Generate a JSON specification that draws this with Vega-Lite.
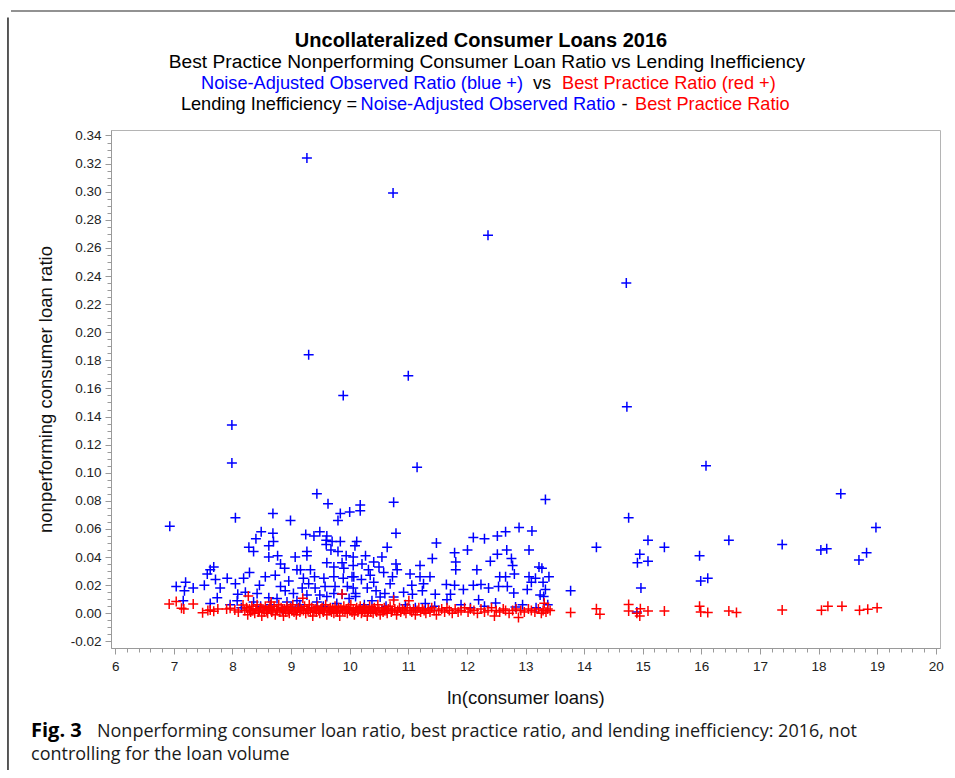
{
  "$schema": "https://vega.github.io/schema/vega-lite/v6.json",
  "width": 829,
  "height": 518,
  "autosize": {"type": "none"},
  "padding": {"left": 111, "top": 130, "right": 15, "bottom": 130},
  "background": "white",
  "config": {
    "view": {"stroke": "#b4b4b4", "strokeWidth": 1},
    "font": "Liberation Sans",
    "axis": {
      "domainColor": "#9a9a9a",
      "tickColor": "#9a9a9a",
      "labelColor": "#222222",
      "labelFont": "Liberation Sans",
      "labelFontSize": 13.5,
      "titleFont": "Liberation Sans",
      "titleFontSize": 18.5,
      "titleFontWeight": "normal",
      "titleColor": "#111111",
      "grid": false
    }
  },
  "datasets": {
    "points": [
      {"series": "Noise-Adjusted Observed Ratio", "lnloans": 6.93, "ratio": 0.062},
      {"series": "Noise-Adjusted Observed Ratio", "lnloans": 7.99, "ratio": 0.134},
      {"series": "Noise-Adjusted Observed Ratio", "lnloans": 7.99, "ratio": 0.107},
      {"series": "Noise-Adjusted Observed Ratio", "lnloans": 8.05, "ratio": 0.068},
      {"series": "Noise-Adjusted Observed Ratio", "lnloans": 9.27, "ratio": 0.324},
      {"series": "Noise-Adjusted Observed Ratio", "lnloans": 9.3, "ratio": 0.184},
      {"series": "Noise-Adjusted Observed Ratio", "lnloans": 9.44, "ratio": 0.085},
      {"series": "Noise-Adjusted Observed Ratio", "lnloans": 9.89, "ratio": 0.155},
      {"series": "Noise-Adjusted Observed Ratio", "lnloans": 10.74, "ratio": 0.299},
      {"series": "Noise-Adjusted Observed Ratio", "lnloans": 10.75, "ratio": 0.079},
      {"series": "Noise-Adjusted Observed Ratio", "lnloans": 11.0, "ratio": 0.169},
      {"series": "Noise-Adjusted Observed Ratio", "lnloans": 11.15, "ratio": 0.104},
      {"series": "Noise-Adjusted Observed Ratio", "lnloans": 12.36, "ratio": 0.269},
      {"series": "Noise-Adjusted Observed Ratio", "lnloans": 13.34, "ratio": 0.081},
      {"series": "Noise-Adjusted Observed Ratio", "lnloans": 14.72, "ratio": 0.235},
      {"series": "Noise-Adjusted Observed Ratio", "lnloans": 14.73, "ratio": 0.147},
      {"series": "Noise-Adjusted Observed Ratio", "lnloans": 14.76, "ratio": 0.068},
      {"series": "Noise-Adjusted Observed Ratio", "lnloans": 16.08, "ratio": 0.105},
      {"series": "Noise-Adjusted Observed Ratio", "lnloans": 18.38, "ratio": 0.085},
      {"series": "Noise-Adjusted Observed Ratio", "lnloans": 18.98, "ratio": 0.061},
      {"series": "Noise-Adjusted Observed Ratio", "lnloans": 14.21, "ratio": 0.047},
      {"series": "Noise-Adjusted Observed Ratio", "lnloans": 15.09, "ratio": 0.052},
      {"series": "Noise-Adjusted Observed Ratio", "lnloans": 15.37, "ratio": 0.047},
      {"series": "Noise-Adjusted Observed Ratio", "lnloans": 14.95, "ratio": 0.042},
      {"series": "Noise-Adjusted Observed Ratio", "lnloans": 14.91, "ratio": 0.036},
      {"series": "Noise-Adjusted Observed Ratio", "lnloans": 15.09, "ratio": 0.037},
      {"series": "Noise-Adjusted Observed Ratio", "lnloans": 14.97, "ratio": 0.018},
      {"series": "Noise-Adjusted Observed Ratio", "lnloans": 13.77, "ratio": 0.016},
      {"series": "Noise-Adjusted Observed Ratio", "lnloans": 15.97, "ratio": 0.041},
      {"series": "Noise-Adjusted Observed Ratio", "lnloans": 15.99, "ratio": 0.023},
      {"series": "Noise-Adjusted Observed Ratio", "lnloans": 16.11, "ratio": 0.025},
      {"series": "Noise-Adjusted Observed Ratio", "lnloans": 16.47, "ratio": 0.052},
      {"series": "Noise-Adjusted Observed Ratio", "lnloans": 17.38, "ratio": 0.049},
      {"series": "Noise-Adjusted Observed Ratio", "lnloans": 18.04, "ratio": 0.045},
      {"series": "Noise-Adjusted Observed Ratio", "lnloans": 18.14, "ratio": 0.046},
      {"series": "Noise-Adjusted Observed Ratio", "lnloans": 18.69, "ratio": 0.038},
      {"series": "Noise-Adjusted Observed Ratio", "lnloans": 18.82, "ratio": 0.043},
      {"series": "Noise-Adjusted Observed Ratio", "lnloans": 13.28, "ratio": 0.032},
      {"series": "Noise-Adjusted Observed Ratio", "lnloans": 13.4, "ratio": 0.026},
      {"series": "Noise-Adjusted Observed Ratio", "lnloans": 13.3, "ratio": 0.022},
      {"series": "Noise-Adjusted Observed Ratio", "lnloans": 13.34, "ratio": 0.017},
      {"series": "Noise-Adjusted Observed Ratio", "lnloans": 14.9, "ratio": 0.001},
      {"series": "Noise-Adjusted Observed Ratio", "lnloans": 9.63, "ratio": 0.078},
      {"series": "Noise-Adjusted Observed Ratio", "lnloans": 8.69, "ratio": 0.071},
      {"series": "Noise-Adjusted Observed Ratio", "lnloans": 8.99, "ratio": 0.066},
      {"series": "Noise-Adjusted Observed Ratio", "lnloans": 9.84, "ratio": 0.071},
      {"series": "Noise-Adjusted Observed Ratio", "lnloans": 10.0, "ratio": 0.072},
      {"series": "Noise-Adjusted Observed Ratio", "lnloans": 9.8, "ratio": 0.066},
      {"series": "Noise-Adjusted Observed Ratio", "lnloans": 8.49, "ratio": 0.058},
      {"series": "Noise-Adjusted Observed Ratio", "lnloans": 8.69, "ratio": 0.057},
      {"series": "Noise-Adjusted Observed Ratio", "lnloans": 8.4, "ratio": 0.053},
      {"series": "Noise-Adjusted Observed Ratio", "lnloans": 8.7, "ratio": 0.051},
      {"series": "Noise-Adjusted Observed Ratio", "lnloans": 8.62, "ratio": 0.048},
      {"series": "Noise-Adjusted Observed Ratio", "lnloans": 8.28, "ratio": 0.047},
      {"series": "Noise-Adjusted Observed Ratio", "lnloans": 8.36, "ratio": 0.044},
      {"series": "Noise-Adjusted Observed Ratio", "lnloans": 8.77, "ratio": 0.041},
      {"series": "Noise-Adjusted Observed Ratio", "lnloans": 8.62, "ratio": 0.04},
      {"series": "Noise-Adjusted Observed Ratio", "lnloans": 9.25, "ratio": 0.056},
      {"series": "Noise-Adjusted Observed Ratio", "lnloans": 9.39, "ratio": 0.055},
      {"series": "Noise-Adjusted Observed Ratio", "lnloans": 9.49, "ratio": 0.058},
      {"series": "Noise-Adjusted Observed Ratio", "lnloans": 9.61, "ratio": 0.055},
      {"series": "Noise-Adjusted Observed Ratio", "lnloans": 9.6, "ratio": 0.052},
      {"series": "Noise-Adjusted Observed Ratio", "lnloans": 9.7, "ratio": 0.051},
      {"series": "Noise-Adjusted Observed Ratio", "lnloans": 9.84, "ratio": 0.051},
      {"series": "Noise-Adjusted Observed Ratio", "lnloans": 9.27, "ratio": 0.044},
      {"series": "Noise-Adjusted Observed Ratio", "lnloans": 9.27, "ratio": 0.041},
      {"series": "Noise-Adjusted Observed Ratio", "lnloans": 9.07, "ratio": 0.04},
      {"series": "Noise-Adjusted Observed Ratio", "lnloans": 9.6, "ratio": 0.049},
      {"series": "Noise-Adjusted Observed Ratio", "lnloans": 9.68, "ratio": 0.045},
      {"series": "Noise-Adjusted Observed Ratio", "lnloans": 9.8, "ratio": 0.044},
      {"series": "Noise-Adjusted Observed Ratio", "lnloans": 9.94, "ratio": 0.041},
      {"series": "Noise-Adjusted Observed Ratio", "lnloans": 10.06, "ratio": 0.04},
      {"series": "Noise-Adjusted Observed Ratio", "lnloans": 10.12, "ratio": 0.051},
      {"series": "Noise-Adjusted Observed Ratio", "lnloans": 9.61, "ratio": 0.036},
      {"series": "Noise-Adjusted Observed Ratio", "lnloans": 9.73, "ratio": 0.033},
      {"series": "Noise-Adjusted Observed Ratio", "lnloans": 9.9, "ratio": 0.032},
      {"series": "Noise-Adjusted Observed Ratio", "lnloans": 10.06, "ratio": 0.034},
      {"series": "Noise-Adjusted Observed Ratio", "lnloans": 9.87, "ratio": 0.036},
      {"series": "Noise-Adjusted Observed Ratio", "lnloans": 8.82, "ratio": 0.035},
      {"series": "Noise-Adjusted Observed Ratio", "lnloans": 8.89, "ratio": 0.032},
      {"series": "Noise-Adjusted Observed Ratio", "lnloans": 8.96, "ratio": 0.023},
      {"series": "Noise-Adjusted Observed Ratio", "lnloans": 9.1, "ratio": 0.031},
      {"series": "Noise-Adjusted Observed Ratio", "lnloans": 9.16, "ratio": 0.031},
      {"series": "Noise-Adjusted Observed Ratio", "lnloans": 9.33, "ratio": 0.031},
      {"series": "Noise-Adjusted Observed Ratio", "lnloans": 9.4, "ratio": 0.026},
      {"series": "Noise-Adjusted Observed Ratio", "lnloans": 9.21, "ratio": 0.025},
      {"series": "Noise-Adjusted Observed Ratio", "lnloans": 9.3, "ratio": 0.021},
      {"series": "Noise-Adjusted Observed Ratio", "lnloans": 9.56, "ratio": 0.025},
      {"series": "Noise-Adjusted Observed Ratio", "lnloans": 9.73, "ratio": 0.026},
      {"series": "Noise-Adjusted Observed Ratio", "lnloans": 9.89, "ratio": 0.025},
      {"series": "Noise-Adjusted Observed Ratio", "lnloans": 10.04, "ratio": 0.026},
      {"series": "Noise-Adjusted Observed Ratio", "lnloans": 9.58, "ratio": 0.019},
      {"series": "Noise-Adjusted Observed Ratio", "lnloans": 9.75, "ratio": 0.019},
      {"series": "Noise-Adjusted Observed Ratio", "lnloans": 10.06, "ratio": 0.018},
      {"series": "Noise-Adjusted Observed Ratio", "lnloans": 7.62, "ratio": 0.031},
      {"series": "Noise-Adjusted Observed Ratio", "lnloans": 7.68, "ratio": 0.033},
      {"series": "Noise-Adjusted Observed Ratio", "lnloans": 7.57, "ratio": 0.028},
      {"series": "Noise-Adjusted Observed Ratio", "lnloans": 7.52, "ratio": 0.02},
      {"series": "Noise-Adjusted Observed Ratio", "lnloans": 7.91, "ratio": 0.025},
      {"series": "Noise-Adjusted Observed Ratio", "lnloans": 7.71, "ratio": 0.024},
      {"series": "Noise-Adjusted Observed Ratio", "lnloans": 7.79, "ratio": 0.018},
      {"series": "Noise-Adjusted Observed Ratio", "lnloans": 8.05, "ratio": 0.021},
      {"series": "Noise-Adjusted Observed Ratio", "lnloans": 7.04, "ratio": 0.019},
      {"series": "Noise-Adjusted Observed Ratio", "lnloans": 7.2, "ratio": 0.022},
      {"series": "Noise-Adjusted Observed Ratio", "lnloans": 7.18, "ratio": 0.016},
      {"series": "Noise-Adjusted Observed Ratio", "lnloans": 7.33, "ratio": 0.018},
      {"series": "Noise-Adjusted Observed Ratio", "lnloans": 7.16, "ratio": 0.009},
      {"series": "Noise-Adjusted Observed Ratio", "lnloans": 7.74, "ratio": 0.011},
      {"series": "Noise-Adjusted Observed Ratio", "lnloans": 7.62, "ratio": 0.007},
      {"series": "Noise-Adjusted Observed Ratio", "lnloans": 8.09, "ratio": 0.0135},
      {"series": "Noise-Adjusted Observed Ratio", "lnloans": 8.08, "ratio": 0.009},
      {"series": "Noise-Adjusted Observed Ratio", "lnloans": 8.19, "ratio": 0.025},
      {"series": "Noise-Adjusted Observed Ratio", "lnloans": 8.29, "ratio": 0.029},
      {"series": "Noise-Adjusted Observed Ratio", "lnloans": 8.22, "ratio": 0.015},
      {"series": "Noise-Adjusted Observed Ratio", "lnloans": 8.46, "ratio": 0.02},
      {"series": "Noise-Adjusted Observed Ratio", "lnloans": 8.42, "ratio": 0.014},
      {"series": "Noise-Adjusted Observed Ratio", "lnloans": 8.36, "ratio": 0.008},
      {"series": "Noise-Adjusted Observed Ratio", "lnloans": 8.56, "ratio": 0.026},
      {"series": "Noise-Adjusted Observed Ratio", "lnloans": 8.73, "ratio": 0.027},
      {"series": "Noise-Adjusted Observed Ratio", "lnloans": 8.62, "ratio": 0.011},
      {"series": "Noise-Adjusted Observed Ratio", "lnloans": 8.82, "ratio": 0.019},
      {"series": "Noise-Adjusted Observed Ratio", "lnloans": 8.76, "ratio": 0.0105},
      {"series": "Noise-Adjusted Observed Ratio", "lnloans": 8.9, "ratio": 0.016},
      {"series": "Noise-Adjusted Observed Ratio", "lnloans": 8.93, "ratio": 0.008},
      {"series": "Noise-Adjusted Observed Ratio", "lnloans": 9.04, "ratio": 0.014},
      {"series": "Noise-Adjusted Observed Ratio", "lnloans": 9.1, "ratio": 0.009},
      {"series": "Noise-Adjusted Observed Ratio", "lnloans": 9.19, "ratio": 0.018},
      {"series": "Noise-Adjusted Observed Ratio", "lnloans": 9.27, "ratio": 0.013},
      {"series": "Noise-Adjusted Observed Ratio", "lnloans": 9.41, "ratio": 0.018},
      {"series": "Noise-Adjusted Observed Ratio", "lnloans": 9.49, "ratio": 0.013},
      {"series": "Noise-Adjusted Observed Ratio", "lnloans": 9.61, "ratio": 0.012},
      {"series": "Noise-Adjusted Observed Ratio", "lnloans": 9.73, "ratio": 0.014},
      {"series": "Noise-Adjusted Observed Ratio", "lnloans": 9.87, "ratio": 0.0135},
      {"series": "Noise-Adjusted Observed Ratio", "lnloans": 9.99, "ratio": 0.0105},
      {"series": "Noise-Adjusted Observed Ratio", "lnloans": 10.1, "ratio": 0.012},
      {"series": "Noise-Adjusted Observed Ratio", "lnloans": 9.44, "ratio": 0.008},
      {"series": "Noise-Adjusted Observed Ratio", "lnloans": 9.02, "ratio": 0.0045},
      {"series": "Noise-Adjusted Observed Ratio", "lnloans": 8.65, "ratio": 0.006},
      {"series": "Noise-Adjusted Observed Ratio", "lnloans": 7.96, "ratio": 0.006},
      {"series": "Noise-Adjusted Observed Ratio", "lnloans": 10.18, "ratio": 0.077},
      {"series": "Noise-Adjusted Observed Ratio", "lnloans": 10.18, "ratio": 0.073},
      {"series": "Noise-Adjusted Observed Ratio", "lnloans": 10.79, "ratio": 0.057},
      {"series": "Noise-Adjusted Observed Ratio", "lnloans": 12.89, "ratio": 0.061},
      {"series": "Noise-Adjusted Observed Ratio", "lnloans": 13.11, "ratio": 0.0585},
      {"series": "Noise-Adjusted Observed Ratio", "lnloans": 12.66, "ratio": 0.058},
      {"series": "Noise-Adjusted Observed Ratio", "lnloans": 12.52, "ratio": 0.055},
      {"series": "Noise-Adjusted Observed Ratio", "lnloans": 12.3, "ratio": 0.053},
      {"series": "Noise-Adjusted Observed Ratio", "lnloans": 12.11, "ratio": 0.054},
      {"series": "Noise-Adjusted Observed Ratio", "lnloans": 11.48, "ratio": 0.05},
      {"series": "Noise-Adjusted Observed Ratio", "lnloans": 10.09, "ratio": 0.048},
      {"series": "Noise-Adjusted Observed Ratio", "lnloans": 10.64, "ratio": 0.047},
      {"series": "Noise-Adjusted Observed Ratio", "lnloans": 12.01, "ratio": 0.045},
      {"series": "Noise-Adjusted Observed Ratio", "lnloans": 12.68, "ratio": 0.045},
      {"series": "Noise-Adjusted Observed Ratio", "lnloans": 13.06, "ratio": 0.045},
      {"series": "Noise-Adjusted Observed Ratio", "lnloans": 11.79, "ratio": 0.043},
      {"series": "Noise-Adjusted Observed Ratio", "lnloans": 12.52, "ratio": 0.042},
      {"series": "Noise-Adjusted Observed Ratio", "lnloans": 11.81, "ratio": 0.0365},
      {"series": "Noise-Adjusted Observed Ratio", "lnloans": 11.81, "ratio": 0.031},
      {"series": "Noise-Adjusted Observed Ratio", "lnloans": 11.41, "ratio": 0.039},
      {"series": "Noise-Adjusted Observed Ratio", "lnloans": 11.2, "ratio": 0.034},
      {"series": "Noise-Adjusted Observed Ratio", "lnloans": 10.79, "ratio": 0.035},
      {"series": "Noise-Adjusted Observed Ratio", "lnloans": 10.81, "ratio": 0.031},
      {"series": "Noise-Adjusted Observed Ratio", "lnloans": 10.55, "ratio": 0.04},
      {"series": "Noise-Adjusted Observed Ratio", "lnloans": 10.41, "ratio": 0.0365},
      {"series": "Noise-Adjusted Observed Ratio", "lnloans": 10.27, "ratio": 0.041},
      {"series": "Noise-Adjusted Observed Ratio", "lnloans": 10.21, "ratio": 0.035},
      {"series": "Noise-Adjusted Observed Ratio", "lnloans": 10.32, "ratio": 0.031},
      {"series": "Noise-Adjusted Observed Ratio", "lnloans": 12.4, "ratio": 0.037},
      {"series": "Noise-Adjusted Observed Ratio", "lnloans": 12.76, "ratio": 0.039},
      {"series": "Noise-Adjusted Observed Ratio", "lnloans": 12.78, "ratio": 0.034},
      {"series": "Noise-Adjusted Observed Ratio", "lnloans": 12.17, "ratio": 0.031},
      {"series": "Noise-Adjusted Observed Ratio", "lnloans": 13.23, "ratio": 0.033},
      {"series": "Noise-Adjusted Observed Ratio", "lnloans": 12.81, "ratio": 0.028},
      {"series": "Noise-Adjusted Observed Ratio", "lnloans": 12.56, "ratio": 0.026},
      {"series": "Noise-Adjusted Observed Ratio", "lnloans": 12.66, "ratio": 0.026},
      {"series": "Noise-Adjusted Observed Ratio", "lnloans": 13.06, "ratio": 0.026},
      {"series": "Noise-Adjusted Observed Ratio", "lnloans": 13.17, "ratio": 0.025},
      {"series": "Noise-Adjusted Observed Ratio", "lnloans": 13.1, "ratio": 0.022},
      {"series": "Noise-Adjusted Observed Ratio", "lnloans": 11.03, "ratio": 0.028},
      {"series": "Noise-Adjusted Observed Ratio", "lnloans": 11.2, "ratio": 0.026},
      {"series": "Noise-Adjusted Observed Ratio", "lnloans": 11.37, "ratio": 0.026},
      {"series": "Noise-Adjusted Observed Ratio", "lnloans": 10.58, "ratio": 0.029},
      {"series": "Noise-Adjusted Observed Ratio", "lnloans": 10.73, "ratio": 0.026},
      {"series": "Noise-Adjusted Observed Ratio", "lnloans": 10.41, "ratio": 0.022},
      {"series": "Noise-Adjusted Observed Ratio", "lnloans": 10.69, "ratio": 0.021},
      {"series": "Noise-Adjusted Observed Ratio", "lnloans": 11.06, "ratio": 0.02},
      {"series": "Noise-Adjusted Observed Ratio", "lnloans": 11.26, "ratio": 0.021},
      {"series": "Noise-Adjusted Observed Ratio", "lnloans": 11.65, "ratio": 0.0205},
      {"series": "Noise-Adjusted Observed Ratio", "lnloans": 11.79, "ratio": 0.02},
      {"series": "Noise-Adjusted Observed Ratio", "lnloans": 11.94, "ratio": 0.017},
      {"series": "Noise-Adjusted Observed Ratio", "lnloans": 12.11, "ratio": 0.02},
      {"series": "Noise-Adjusted Observed Ratio", "lnloans": 12.24, "ratio": 0.0205},
      {"series": "Noise-Adjusted Observed Ratio", "lnloans": 12.37, "ratio": 0.018},
      {"series": "Noise-Adjusted Observed Ratio", "lnloans": 12.54, "ratio": 0.019},
      {"series": "Noise-Adjusted Observed Ratio", "lnloans": 12.69, "ratio": 0.019},
      {"series": "Noise-Adjusted Observed Ratio", "lnloans": 12.8, "ratio": 0.0145},
      {"series": "Noise-Adjusted Observed Ratio", "lnloans": 13.03, "ratio": 0.017},
      {"series": "Noise-Adjusted Observed Ratio", "lnloans": 13.25, "ratio": 0.013},
      {"series": "Noise-Adjusted Observed Ratio", "lnloans": 10.92, "ratio": 0.015},
      {"series": "Noise-Adjusted Observed Ratio", "lnloans": 11.07, "ratio": 0.0135},
      {"series": "Noise-Adjusted Observed Ratio", "lnloans": 11.24, "ratio": 0.016},
      {"series": "Noise-Adjusted Observed Ratio", "lnloans": 11.46, "ratio": 0.0135},
      {"series": "Noise-Adjusted Observed Ratio", "lnloans": 11.72, "ratio": 0.0135},
      {"series": "Noise-Adjusted Observed Ratio", "lnloans": 12.2, "ratio": 0.0097},
      {"series": "Noise-Adjusted Observed Ratio", "lnloans": 12.49, "ratio": 0.0073},
      {"series": "Noise-Adjusted Observed Ratio", "lnloans": 10.52, "ratio": 0.0116},
      {"series": "Noise-Adjusted Observed Ratio", "lnloans": 10.75, "ratio": 0.0116},
      {"series": "Noise-Adjusted Observed Ratio", "lnloans": 10.1, "ratio": 0.014},
      {"series": "Noise-Adjusted Observed Ratio", "lnloans": 9.96, "ratio": 0.019},
      {"series": "Noise-Adjusted Observed Ratio", "lnloans": 10.07, "ratio": 0.026},
      {"series": "Noise-Adjusted Observed Ratio", "lnloans": 11.29, "ratio": 0.007},
      {"series": "Noise-Adjusted Observed Ratio", "lnloans": 11.66, "ratio": 0.0097},
      {"series": "Noise-Adjusted Observed Ratio", "lnloans": 12.06, "ratio": 0.004},
      {"series": "Noise-Adjusted Observed Ratio", "lnloans": 12.83, "ratio": 0.0045},
      {"series": "Noise-Adjusted Observed Ratio", "lnloans": 13.31, "ratio": 0.012},
      {"series": "Noise-Adjusted Observed Ratio", "lnloans": 8.15, "ratio": 0.004},
      {"series": "Noise-Adjusted Observed Ratio", "lnloans": 8.48, "ratio": 0.005},
      {"series": "Noise-Adjusted Observed Ratio", "lnloans": 8.85, "ratio": 0.003},
      {"series": "Noise-Adjusted Observed Ratio", "lnloans": 9.15, "ratio": 0.006},
      {"series": "Noise-Adjusted Observed Ratio", "lnloans": 9.35, "ratio": 0.004},
      {"series": "Noise-Adjusted Observed Ratio", "lnloans": 9.55, "ratio": 0.005},
      {"series": "Noise-Adjusted Observed Ratio", "lnloans": 9.78, "ratio": 0.007},
      {"series": "Noise-Adjusted Observed Ratio", "lnloans": 10.25, "ratio": 0.006},
      {"series": "Noise-Adjusted Observed Ratio", "lnloans": 10.38, "ratio": 0.009},
      {"series": "Noise-Adjusted Observed Ratio", "lnloans": 10.62, "ratio": 0.005},
      {"series": "Noise-Adjusted Observed Ratio", "lnloans": 10.95, "ratio": 0.006},
      {"series": "Noise-Adjusted Observed Ratio", "lnloans": 11.12, "ratio": 0.004},
      {"series": "Noise-Adjusted Observed Ratio", "lnloans": 11.45, "ratio": 0.005},
      {"series": "Noise-Adjusted Observed Ratio", "lnloans": 11.9, "ratio": 0.006},
      {"series": "Noise-Adjusted Observed Ratio", "lnloans": 12.3, "ratio": 0.005},
      {"series": "Noise-Adjusted Observed Ratio", "lnloans": 12.95, "ratio": 0.006},
      {"series": "Noise-Adjusted Observed Ratio", "lnloans": 13.18, "ratio": 0.004},
      {"series": "Noise-Adjusted Observed Ratio", "lnloans": 13.38, "ratio": 0.006},
      {"series": "Noise-Adjusted Observed Ratio", "lnloans": 10.3, "ratio": 0.018},
      {"series": "Noise-Adjusted Observed Ratio", "lnloans": 10.45, "ratio": 0.016},
      {"series": "Noise-Adjusted Observed Ratio", "lnloans": 10.6, "ratio": 0.014},
      {"series": "Noise-Adjusted Observed Ratio", "lnloans": 10.2, "ratio": 0.024},
      {"series": "Noise-Adjusted Observed Ratio", "lnloans": 10.35, "ratio": 0.027},
      {"series": "Noise-Adjusted Observed Ratio", "lnloans": 10.5, "ratio": 0.033},
      {"series": "Best Practice Ratio", "lnloans": 6.92, "ratio": 0.0066},
      {"series": "Best Practice Ratio", "lnloans": 7.04, "ratio": 0.0083},
      {"series": "Best Practice Ratio", "lnloans": 7.13, "ratio": 0.0035},
      {"series": "Best Practice Ratio", "lnloans": 7.17, "ratio": 0.003},
      {"series": "Best Practice Ratio", "lnloans": 7.33, "ratio": 0.0066},
      {"series": "Best Practice Ratio", "lnloans": 7.49, "ratio": 0.0004},
      {"series": "Best Practice Ratio", "lnloans": 7.58, "ratio": 0.002},
      {"series": "Best Practice Ratio", "lnloans": 7.62, "ratio": 0.0023},
      {"series": "Best Practice Ratio", "lnloans": 7.68, "ratio": 0.0015},
      {"series": "Best Practice Ratio", "lnloans": 7.75, "ratio": 0.003},
      {"series": "Best Practice Ratio", "lnloans": 7.9, "ratio": 0.003},
      {"series": "Best Practice Ratio", "lnloans": 7.96, "ratio": 0.0035},
      {"series": "Best Practice Ratio", "lnloans": 8.04, "ratio": 0.0023},
      {"series": "Best Practice Ratio", "lnloans": 8.1, "ratio": 0.001},
      {"series": "Best Practice Ratio", "lnloans": 8.18, "ratio": 0.0059},
      {"series": "Best Practice Ratio", "lnloans": 8.27, "ratio": 0.0123},
      {"series": "Best Practice Ratio", "lnloans": 8.21, "ratio": 0.002},
      {"series": "Best Practice Ratio", "lnloans": 8.24, "ratio": 0.004},
      {"series": "Best Practice Ratio", "lnloans": 8.26, "ratio": -0.001},
      {"series": "Best Practice Ratio", "lnloans": 8.29, "ratio": 0.003},
      {"series": "Best Practice Ratio", "lnloans": 8.31, "ratio": 0.001},
      {"series": "Best Practice Ratio", "lnloans": 8.33, "ratio": 0.005},
      {"series": "Best Practice Ratio", "lnloans": 8.35, "ratio": 0.002},
      {"series": "Best Practice Ratio", "lnloans": 8.38, "ratio": 0.0},
      {"series": "Best Practice Ratio", "lnloans": 8.4, "ratio": 0.003},
      {"series": "Best Practice Ratio", "lnloans": 8.42, "ratio": 0.006},
      {"series": "Best Practice Ratio", "lnloans": 8.44, "ratio": 0.001},
      {"series": "Best Practice Ratio", "lnloans": 8.46, "ratio": 0.002},
      {"series": "Best Practice Ratio", "lnloans": 8.48, "ratio": 0.004},
      {"series": "Best Practice Ratio", "lnloans": 8.5, "ratio": -0.002},
      {"series": "Best Practice Ratio", "lnloans": 8.52, "ratio": 0.003},
      {"series": "Best Practice Ratio", "lnloans": 8.54, "ratio": 0.001},
      {"series": "Best Practice Ratio", "lnloans": 8.56, "ratio": 0.005},
      {"series": "Best Practice Ratio", "lnloans": 8.58, "ratio": 0.002},
      {"series": "Best Practice Ratio", "lnloans": 8.6, "ratio": 0.0},
      {"series": "Best Practice Ratio", "lnloans": 8.62, "ratio": 0.003},
      {"series": "Best Practice Ratio", "lnloans": 8.64, "ratio": 0.004},
      {"series": "Best Practice Ratio", "lnloans": 8.66, "ratio": 0.008},
      {"series": "Best Practice Ratio", "lnloans": 8.67, "ratio": 0.001},
      {"series": "Best Practice Ratio", "lnloans": 8.69, "ratio": 0.002},
      {"series": "Best Practice Ratio", "lnloans": 8.71, "ratio": 0.005},
      {"series": "Best Practice Ratio", "lnloans": 8.73, "ratio": -0.001},
      {"series": "Best Practice Ratio", "lnloans": 8.75, "ratio": 0.003},
      {"series": "Best Practice Ratio", "lnloans": 8.77, "ratio": 0.002},
      {"series": "Best Practice Ratio", "lnloans": 8.79, "ratio": 0.006},
      {"series": "Best Practice Ratio", "lnloans": 8.81, "ratio": 0.001},
      {"series": "Best Practice Ratio", "lnloans": 8.83, "ratio": 0.004},
      {"series": "Best Practice Ratio", "lnloans": 8.85, "ratio": 0.002},
      {"series": "Best Practice Ratio", "lnloans": 8.87, "ratio": -0.002},
      {"series": "Best Practice Ratio", "lnloans": 8.89, "ratio": 0.003},
      {"series": "Best Practice Ratio", "lnloans": 8.91, "ratio": 0.001},
      {"series": "Best Practice Ratio", "lnloans": 8.93, "ratio": 0.005},
      {"series": "Best Practice Ratio", "lnloans": 8.95, "ratio": 0.002},
      {"series": "Best Practice Ratio", "lnloans": 8.97, "ratio": 0.0},
      {"series": "Best Practice Ratio", "lnloans": 8.99, "ratio": 0.004},
      {"series": "Best Practice Ratio", "lnloans": 9.01, "ratio": 0.002},
      {"series": "Best Practice Ratio", "lnloans": 9.03, "ratio": 0.006},
      {"series": "Best Practice Ratio", "lnloans": 9.05, "ratio": 0.001},
      {"series": "Best Practice Ratio", "lnloans": 9.07, "ratio": 0.003},
      {"series": "Best Practice Ratio", "lnloans": 9.09, "ratio": -0.001},
      {"series": "Best Practice Ratio", "lnloans": 9.11, "ratio": 0.002},
      {"series": "Best Practice Ratio", "lnloans": 9.13, "ratio": 0.004},
      {"series": "Best Practice Ratio", "lnloans": 9.15, "ratio": 0.001},
      {"series": "Best Practice Ratio", "lnloans": 9.17, "ratio": 0.003},
      {"series": "Best Practice Ratio", "lnloans": 9.2, "ratio": 0.0107},
      {"series": "Best Practice Ratio", "lnloans": 9.21, "ratio": 0.002},
      {"series": "Best Practice Ratio", "lnloans": 9.23, "ratio": 0.005},
      {"series": "Best Practice Ratio", "lnloans": 9.25, "ratio": 0.0},
      {"series": "Best Practice Ratio", "lnloans": 9.27, "ratio": 0.003},
      {"series": "Best Practice Ratio", "lnloans": 9.29, "ratio": 0.002},
      {"series": "Best Practice Ratio", "lnloans": 9.31, "ratio": 0.006},
      {"series": "Best Practice Ratio", "lnloans": 9.33, "ratio": 0.001},
      {"series": "Best Practice Ratio", "lnloans": 9.35, "ratio": 0.004},
      {"series": "Best Practice Ratio", "lnloans": 9.37, "ratio": -0.002},
      {"series": "Best Practice Ratio", "lnloans": 9.39, "ratio": 0.002},
      {"series": "Best Practice Ratio", "lnloans": 9.41, "ratio": 0.003},
      {"series": "Best Practice Ratio", "lnloans": 9.43, "ratio": 0.001},
      {"series": "Best Practice Ratio", "lnloans": 9.45, "ratio": 0.005},
      {"series": "Best Practice Ratio", "lnloans": 9.47, "ratio": 0.002},
      {"series": "Best Practice Ratio", "lnloans": 9.49, "ratio": 0.0},
      {"series": "Best Practice Ratio", "lnloans": 9.51, "ratio": 0.003},
      {"series": "Best Practice Ratio", "lnloans": 9.53, "ratio": 0.004},
      {"series": "Best Practice Ratio", "lnloans": 9.55, "ratio": 0.001},
      {"series": "Best Practice Ratio", "lnloans": 9.57, "ratio": 0.002},
      {"series": "Best Practice Ratio", "lnloans": 9.59, "ratio": 0.006},
      {"series": "Best Practice Ratio", "lnloans": 9.61, "ratio": -0.001},
      {"series": "Best Practice Ratio", "lnloans": 9.63, "ratio": 0.003},
      {"series": "Best Practice Ratio", "lnloans": 9.65, "ratio": 0.002},
      {"series": "Best Practice Ratio", "lnloans": 9.67, "ratio": 0.004},
      {"series": "Best Practice Ratio", "lnloans": 9.69, "ratio": 0.001},
      {"series": "Best Practice Ratio", "lnloans": 9.71, "ratio": 0.003},
      {"series": "Best Practice Ratio", "lnloans": 9.73, "ratio": 0.0},
      {"series": "Best Practice Ratio", "lnloans": 9.75, "ratio": 0.005},
      {"series": "Best Practice Ratio", "lnloans": 9.77, "ratio": 0.002},
      {"series": "Best Practice Ratio", "lnloans": 9.79, "ratio": 0.001},
      {"series": "Best Practice Ratio", "lnloans": 9.81, "ratio": 0.004},
      {"series": "Best Practice Ratio", "lnloans": 9.83, "ratio": -0.002},
      {"series": "Best Practice Ratio", "lnloans": 9.85, "ratio": 0.003},
      {"series": "Best Practice Ratio", "lnloans": 9.87, "ratio": 0.0137},
      {"series": "Best Practice Ratio", "lnloans": 9.88, "ratio": 0.002},
      {"series": "Best Practice Ratio", "lnloans": 9.9, "ratio": 0.005},
      {"series": "Best Practice Ratio", "lnloans": 9.92, "ratio": 0.001},
      {"series": "Best Practice Ratio", "lnloans": 9.94, "ratio": 0.003},
      {"series": "Best Practice Ratio", "lnloans": 9.96, "ratio": 0.0},
      {"series": "Best Practice Ratio", "lnloans": 9.98, "ratio": 0.004},
      {"series": "Best Practice Ratio", "lnloans": 10.0, "ratio": 0.002},
      {"series": "Best Practice Ratio", "lnloans": 10.02, "ratio": 0.006},
      {"series": "Best Practice Ratio", "lnloans": 10.04, "ratio": 0.001},
      {"series": "Best Practice Ratio", "lnloans": 10.06, "ratio": 0.003},
      {"series": "Best Practice Ratio", "lnloans": 10.08, "ratio": -0.001},
      {"series": "Best Practice Ratio", "lnloans": 10.1, "ratio": 0.002},
      {"series": "Best Practice Ratio", "lnloans": 10.12, "ratio": 0.004},
      {"series": "Best Practice Ratio", "lnloans": 10.14, "ratio": 0.001},
      {"series": "Best Practice Ratio", "lnloans": 10.16, "ratio": 0.003},
      {"series": "Best Practice Ratio", "lnloans": 10.18, "ratio": 0.005},
      {"series": "Best Practice Ratio", "lnloans": 10.2, "ratio": 0.0},
      {"series": "Best Practice Ratio", "lnloans": 10.22, "ratio": 0.002},
      {"series": "Best Practice Ratio", "lnloans": 10.24, "ratio": 0.004},
      {"series": "Best Practice Ratio", "lnloans": 10.26, "ratio": 0.001},
      {"series": "Best Practice Ratio", "lnloans": 10.28, "ratio": 0.003},
      {"series": "Best Practice Ratio", "lnloans": 10.3, "ratio": -0.002},
      {"series": "Best Practice Ratio", "lnloans": 10.32, "ratio": 0.002},
      {"series": "Best Practice Ratio", "lnloans": 10.34, "ratio": 0.005},
      {"series": "Best Practice Ratio", "lnloans": 10.36, "ratio": 0.001},
      {"series": "Best Practice Ratio", "lnloans": 10.38, "ratio": 0.003},
      {"series": "Best Practice Ratio", "lnloans": 10.4, "ratio": 0.0},
      {"series": "Best Practice Ratio", "lnloans": 10.42, "ratio": 0.004},
      {"series": "Best Practice Ratio", "lnloans": 10.44, "ratio": 0.002},
      {"series": "Best Practice Ratio", "lnloans": 10.46, "ratio": 0.001},
      {"series": "Best Practice Ratio", "lnloans": 10.48, "ratio": 0.006},
      {"series": "Best Practice Ratio", "lnloans": 10.5, "ratio": 0.002},
      {"series": "Best Practice Ratio", "lnloans": 10.52, "ratio": -0.001},
      {"series": "Best Practice Ratio", "lnloans": 10.55, "ratio": 0.003},
      {"series": "Best Practice Ratio", "lnloans": 10.57, "ratio": 0.001},
      {"series": "Best Practice Ratio", "lnloans": 10.59, "ratio": 0.004},
      {"series": "Best Practice Ratio", "lnloans": 10.62, "ratio": 0.002},
      {"series": "Best Practice Ratio", "lnloans": 10.64, "ratio": 0.0},
      {"series": "Best Practice Ratio", "lnloans": 10.66, "ratio": 0.003},
      {"series": "Best Practice Ratio", "lnloans": 10.69, "ratio": 0.005},
      {"series": "Best Practice Ratio", "lnloans": 10.71, "ratio": 0.001},
      {"series": "Best Practice Ratio", "lnloans": 10.73, "ratio": 0.002},
      {"series": "Best Practice Ratio", "lnloans": 10.75, "ratio": 0.0094},
      {"series": "Best Practice Ratio", "lnloans": 10.77, "ratio": 0.003},
      {"series": "Best Practice Ratio", "lnloans": 10.8, "ratio": -0.001},
      {"series": "Best Practice Ratio", "lnloans": 10.82, "ratio": 0.002},
      {"series": "Best Practice Ratio", "lnloans": 10.85, "ratio": 0.004},
      {"series": "Best Practice Ratio", "lnloans": 10.87, "ratio": 0.001},
      {"series": "Best Practice Ratio", "lnloans": 10.9, "ratio": 0.003},
      {"series": "Best Practice Ratio", "lnloans": 10.93, "ratio": 0.002},
      {"series": "Best Practice Ratio", "lnloans": 10.96, "ratio": 0.0},
      {"series": "Best Practice Ratio", "lnloans": 10.98, "ratio": 0.004},
      {"series": "Best Practice Ratio", "lnloans": 11.01, "ratio": 0.0089},
      {"series": "Best Practice Ratio", "lnloans": 11.03, "ratio": 0.002},
      {"series": "Best Practice Ratio", "lnloans": 11.06, "ratio": 0.001},
      {"series": "Best Practice Ratio", "lnloans": 11.09, "ratio": 0.003},
      {"series": "Best Practice Ratio", "lnloans": 11.12, "ratio": -0.001},
      {"series": "Best Practice Ratio", "lnloans": 11.15, "ratio": 0.002},
      {"series": "Best Practice Ratio", "lnloans": 11.18, "ratio": 0.004},
      {"series": "Best Practice Ratio", "lnloans": 11.21, "ratio": 0.001},
      {"series": "Best Practice Ratio", "lnloans": 11.24, "ratio": 0.003},
      {"series": "Best Practice Ratio", "lnloans": 11.27, "ratio": 0.002},
      {"series": "Best Practice Ratio", "lnloans": 11.3, "ratio": 0.0},
      {"series": "Best Practice Ratio", "lnloans": 11.34, "ratio": 0.003},
      {"series": "Best Practice Ratio", "lnloans": 11.37, "ratio": 0.001},
      {"series": "Best Practice Ratio", "lnloans": 11.4, "ratio": 0.004},
      {"series": "Best Practice Ratio", "lnloans": 11.44, "ratio": 0.002},
      {"series": "Best Practice Ratio", "lnloans": 11.48, "ratio": -0.001},
      {"series": "Best Practice Ratio", "lnloans": 11.52, "ratio": 0.002},
      {"series": "Best Practice Ratio", "lnloans": 11.57, "ratio": 0.003},
      {"series": "Best Practice Ratio", "lnloans": 11.62, "ratio": 0.001},
      {"series": "Best Practice Ratio", "lnloans": 11.66, "ratio": 0.004},
      {"series": "Best Practice Ratio", "lnloans": 11.7, "ratio": 0.002},
      {"series": "Best Practice Ratio", "lnloans": 11.75, "ratio": 0.0},
      {"series": "Best Practice Ratio", "lnloans": 11.8, "ratio": 0.003},
      {"series": "Best Practice Ratio", "lnloans": 11.85, "ratio": 0.001},
      {"series": "Best Practice Ratio", "lnloans": 11.9, "ratio": 0.002},
      {"series": "Best Practice Ratio", "lnloans": 11.96, "ratio": 0.004},
      {"series": "Best Practice Ratio", "lnloans": 12.02, "ratio": 0.001},
      {"series": "Best Practice Ratio", "lnloans": 12.06, "ratio": 0.003},
      {"series": "Best Practice Ratio", "lnloans": 12.12, "ratio": 0.002},
      {"series": "Best Practice Ratio", "lnloans": 12.18, "ratio": 0.0},
      {"series": "Best Practice Ratio", "lnloans": 12.24, "ratio": 0.003},
      {"series": "Best Practice Ratio", "lnloans": 12.3, "ratio": 0.001},
      {"series": "Best Practice Ratio", "lnloans": 12.36, "ratio": 0.002},
      {"series": "Best Practice Ratio", "lnloans": 12.42, "ratio": 0.004},
      {"series": "Best Practice Ratio", "lnloans": 12.47, "ratio": -0.002},
      {"series": "Best Practice Ratio", "lnloans": 12.5, "ratio": 0.002},
      {"series": "Best Practice Ratio", "lnloans": 12.56, "ratio": 0.001},
      {"series": "Best Practice Ratio", "lnloans": 12.62, "ratio": 0.003},
      {"series": "Best Practice Ratio", "lnloans": 12.66, "ratio": 0.002},
      {"series": "Best Practice Ratio", "lnloans": 12.72, "ratio": 0.0},
      {"series": "Best Practice Ratio", "lnloans": 12.78, "ratio": 0.002},
      {"series": "Best Practice Ratio", "lnloans": 12.84, "ratio": 0.003},
      {"series": "Best Practice Ratio", "lnloans": 12.88, "ratio": -0.003},
      {"series": "Best Practice Ratio", "lnloans": 12.92, "ratio": 0.002},
      {"series": "Best Practice Ratio", "lnloans": 12.98, "ratio": 0.001},
      {"series": "Best Practice Ratio", "lnloans": 13.05, "ratio": 0.003},
      {"series": "Best Practice Ratio", "lnloans": 13.1, "ratio": 0.002},
      {"series": "Best Practice Ratio", "lnloans": 13.16, "ratio": 0.001},
      {"series": "Best Practice Ratio", "lnloans": 13.22, "ratio": 0.003},
      {"series": "Best Practice Ratio", "lnloans": 13.27, "ratio": 0.0},
      {"series": "Best Practice Ratio", "lnloans": 13.3, "ratio": 0.002},
      {"series": "Best Practice Ratio", "lnloans": 13.32, "ratio": 0.0071},
      {"series": "Best Practice Ratio", "lnloans": 13.35, "ratio": 0.001},
      {"series": "Best Practice Ratio", "lnloans": 13.38, "ratio": 0.003},
      {"series": "Best Practice Ratio", "lnloans": 13.42, "ratio": 0.002},
      {"series": "Best Practice Ratio", "lnloans": 13.77, "ratio": 0.0005},
      {"series": "Best Practice Ratio", "lnloans": 14.21, "ratio": 0.0033},
      {"series": "Best Practice Ratio", "lnloans": 14.27, "ratio": -0.0007},
      {"series": "Best Practice Ratio", "lnloans": 14.76, "ratio": 0.0062},
      {"series": "Best Practice Ratio", "lnloans": 14.76, "ratio": 0.0017},
      {"series": "Best Practice Ratio", "lnloans": 14.9, "ratio": 0.0},
      {"series": "Best Practice Ratio", "lnloans": 14.95, "ratio": -0.002},
      {"series": "Best Practice Ratio", "lnloans": 14.96, "ratio": 0.0033},
      {"series": "Best Practice Ratio", "lnloans": 15.09, "ratio": 0.0017},
      {"series": "Best Practice Ratio", "lnloans": 15.37, "ratio": 0.0017},
      {"series": "Best Practice Ratio", "lnloans": 15.97, "ratio": 0.005},
      {"series": "Best Practice Ratio", "lnloans": 15.99, "ratio": 0.001},
      {"series": "Best Practice Ratio", "lnloans": 16.11, "ratio": 0.0005},
      {"series": "Best Practice Ratio", "lnloans": 16.47, "ratio": 0.0017},
      {"series": "Best Practice Ratio", "lnloans": 16.6, "ratio": 0.0005},
      {"series": "Best Practice Ratio", "lnloans": 17.38, "ratio": 0.0024},
      {"series": "Best Practice Ratio", "lnloans": 18.05, "ratio": 0.0021},
      {"series": "Best Practice Ratio", "lnloans": 18.16, "ratio": 0.005},
      {"series": "Best Practice Ratio", "lnloans": 18.4, "ratio": 0.005},
      {"series": "Best Practice Ratio", "lnloans": 18.7, "ratio": 0.0021},
      {"series": "Best Practice Ratio", "lnloans": 18.84, "ratio": 0.0028},
      {"series": "Best Practice Ratio", "lnloans": 19.0, "ratio": 0.004}
    ]
  },
  "resolve": {"axis": {"x": "independent", "y": "independent"}},
  "layer": [
    {
      "data": {"name": "points"},
      "transform": [{"filter": "datum.series === 'Noise-Adjusted Observed Ratio'"}],
      "mark": {"type": "point", "shape": "M-1,0L1,0M0,-1L0,1", "filled": false, "size": 100, "strokeWidth": 1.5, "opacity": 1},
      "encoding": {
        "x": {
          "field": "lnloans", "type": "quantitative",
          "scale": {"domain": [5.927, 20.073], "nice": false, "zero": false},
          "axis": {"orient": "bottom", "values": [6, 7, 8, 9, 10, 11, 12, 13, 14, 15, 16, 17, 18, 19, 20], "format": "d", "tickSize": 6, "labelPadding": 5, "title": "ln(consumer loans)", "titlePadding": 16}
        },
        "y": {
          "field": "ratio", "type": "quantitative",
          "scale": {"domain": [-0.0247, 0.3439], "nice": false, "zero": false},
          "axis": {"orient": "left", "values": [-0.02, 0, 0.02, 0.04, 0.06, 0.08, 0.1, 0.12, 0.14, 0.16, 0.18, 0.2, 0.22, 0.24, 0.26, 0.28, 0.3, 0.32, 0.34], "labelExpr": "datum.value < 0 ? '-' + format(-datum.value, '.2f') : format(datum.value, '.2f')", "tickSize": 6, "labelPadding": 4, "title": "nonperforming consumer loan ratio", "titlePadding": 15}
        },
        "color": {"field": "series", "type": "nominal", "scale": {"domain": ["Noise-Adjusted Observed Ratio", "Best Practice Ratio"], "range": ["#0000ff", "#ff0000"]}, "legend": null}
      }
    },
    {
      "data": {"name": "points"},
      "transform": [{"filter": "datum.series === 'Best Practice Ratio'"}],
      "mark": {"type": "point", "shape": "M-1,0L1,0M0,-1L0,1", "filled": false, "size": 100, "strokeWidth": 1.5, "opacity": 1},
      "encoding": {
        "x": {
          "field": "lnloans", "type": "quantitative",
          "scale": {"domain": [5.927, 20.073], "nice": false, "zero": false},
          "axis": {"orient": "bottom", "values": [6, 6.2, 6.4, 6.6, 6.8, 7, 7.2, 7.4, 7.6, 7.8, 8, 8.2, 8.4, 8.6, 8.8, 9, 9.2, 9.4, 9.6, 9.8, 10, 10.2, 10.4, 10.6, 10.8, 11, 11.2, 11.4, 11.6, 11.8, 12, 12.2, 12.4, 12.6, 12.8, 13, 13.2, 13.4, 13.6, 13.8, 14, 14.2, 14.4, 14.6, 14.8, 15, 15.2, 15.4, 15.6, 15.8, 16, 16.2, 16.4, 16.6, 16.8, 17, 17.2, 17.4, 17.6, 17.8, 18, 18.2, 18.4, 18.6, 18.8, 19, 19.2, 19.4, 19.6, 19.8, 20], "labels": false, "domain": false, "tickSize": 4, "title": null}
        },
        "y": {
          "field": "ratio", "type": "quantitative",
          "scale": {"domain": [-0.0247, 0.3439], "nice": false, "zero": false},
          "axis": {"orient": "left", "values": [-0.02, -0.015, -0.01, -0.005, 0, 0.005, 0.01, 0.015, 0.02, 0.025, 0.03, 0.035, 0.04, 0.045, 0.05, 0.055, 0.06, 0.065, 0.07, 0.075, 0.08, 0.085, 0.09, 0.095, 0.1, 0.105, 0.11, 0.115, 0.12, 0.125, 0.13, 0.135, 0.14, 0.145, 0.15, 0.155, 0.16, 0.165, 0.17, 0.175, 0.18, 0.185, 0.19, 0.195, 0.2, 0.205, 0.21, 0.215, 0.22, 0.225, 0.23, 0.235, 0.24, 0.245, 0.25, 0.255, 0.26, 0.265, 0.27, 0.275, 0.28, 0.285, 0.29, 0.295, 0.3, 0.305, 0.31, 0.315, 0.32, 0.325, 0.33, 0.335, 0.34], "labels": false, "domain": false, "tickSize": 4, "title": null}
        },
        "color": {"field": "series", "type": "nominal", "scale": {"domain": ["Noise-Adjusted Observed Ratio", "Best Practice Ratio"], "range": ["#0000ff", "#ff0000"]}, "legend": null}
      }
    },
    {
      "data": {"values": [{"text": "Uncollateralized Consumer Loans 2016"}]},
      "mark": {"type": "text", "font": "Liberation Sans", "fontSize": 20, "fontWeight": "bold", "align": "center", "baseline": "alphabetic", "color": "#000000"},
      "encoding": {
        "x": {"datum": 12.241, "type": "quantitative", "scale": {"domain": [5.927, 20.073], "nice": false, "zero": false}, "axis": null},
        "y": {"datum": 0.403, "type": "quantitative", "scale": {"domain": [-0.0247, 0.3439], "nice": false, "zero": false}, "axis": null},
        "text": {"field": "text"}
      }
    },
    {
      "data": {"values": [{"text": "Best Practice Nonperforming Consumer Loan Ratio vs Lending Inefficiency"}]},
      "mark": {"type": "text", "font": "Liberation Sans", "fontSize": 19.2, "align": "center", "baseline": "alphabetic", "color": "#000000"},
      "encoding": {
        "x": {"datum": 12.343, "type": "quantitative", "scale": {"domain": [5.927, 20.073], "nice": false, "zero": false}, "axis": null},
        "y": {"datum": 0.3883, "type": "quantitative", "scale": {"domain": [-0.0247, 0.3439], "nice": false, "zero": false}, "axis": null},
        "text": {"field": "text"}
      }
    },
    {
      "data": {"values": [{"text": "Noise-Adjusted Observed Ratio (blue +)"}]},
      "mark": {"type": "text", "font": "Liberation Sans", "fontSize": 18.2, "align": "right", "baseline": "alphabetic", "color": "#0000ff"},
      "encoding": {
        "x": {"datum": 12.958, "type": "quantitative", "scale": {"domain": [5.927, 20.073], "nice": false, "zero": false}, "axis": null},
        "y": {"datum": 0.3734, "type": "quantitative", "scale": {"domain": [-0.0247, 0.3439], "nice": false, "zero": false}, "axis": null},
        "text": {"field": "text"}
      }
    },
    {
      "data": {"values": [{"text": "vs"}]},
      "mark": {"type": "text", "font": "Liberation Sans", "fontSize": 18.2, "align": "center", "baseline": "alphabetic", "color": "#000000"},
      "encoding": {
        "x": {"datum": 13.282, "type": "quantitative", "scale": {"domain": [5.927, 20.073], "nice": false, "zero": false}, "axis": null},
        "y": {"datum": 0.3734, "type": "quantitative", "scale": {"domain": [-0.0247, 0.3439], "nice": false, "zero": false}, "axis": null},
        "text": {"field": "text"}
      }
    },
    {
      "data": {"values": [{"text": "Best Practice Ratio (red +)"}]},
      "mark": {"type": "text", "font": "Liberation Sans", "fontSize": 18.2, "align": "left", "baseline": "alphabetic", "color": "#ff0000"},
      "encoding": {
        "x": {"datum": 13.623, "type": "quantitative", "scale": {"domain": [5.927, 20.073], "nice": false, "zero": false}, "axis": null},
        "y": {"datum": 0.3734, "type": "quantitative", "scale": {"domain": [-0.0247, 0.3439], "nice": false, "zero": false}, "axis": null},
        "text": {"field": "text"}
      }
    },
    {
      "data": {"values": [{"text": "Lending Inefficiency ="}]},
      "mark": {"type": "text", "font": "Liberation Sans", "fontSize": 18.2, "align": "right", "baseline": "alphabetic", "color": "#000000"},
      "encoding": {
        "x": {"datum": 10.125, "type": "quantitative", "scale": {"domain": [5.927, 20.073], "nice": false, "zero": false}, "axis": null},
        "y": {"datum": 0.3578, "type": "quantitative", "scale": {"domain": [-0.0247, 0.3439], "nice": false, "zero": false}, "axis": null},
        "text": {"field": "text"}
      }
    },
    {
      "data": {"values": [{"text": "Noise-Adjusted Observed Ratio"}]},
      "mark": {"type": "text", "font": "Liberation Sans", "fontSize": 18.2, "align": "center", "baseline": "alphabetic", "color": "#0000ff"},
      "encoding": {
        "x": {"datum": 12.36, "type": "quantitative", "scale": {"domain": [5.927, 20.073], "nice": false, "zero": false}, "axis": null},
        "y": {"datum": 0.3578, "type": "quantitative", "scale": {"domain": [-0.0247, 0.3439], "nice": false, "zero": false}, "axis": null},
        "text": {"field": "text"}
      }
    },
    {
      "data": {"values": [{"text": "-"}]},
      "mark": {"type": "text", "font": "Liberation Sans", "fontSize": 18.2, "align": "center", "baseline": "alphabetic", "color": "#000000"},
      "encoding": {
        "x": {"datum": 14.69, "type": "quantitative", "scale": {"domain": [5.927, 20.073], "nice": false, "zero": false}, "axis": null},
        "y": {"datum": 0.3578, "type": "quantitative", "scale": {"domain": [-0.0247, 0.3439], "nice": false, "zero": false}, "axis": null},
        "text": {"field": "text"}
      }
    },
    {
      "data": {"values": [{"text": "Best Practice Ratio"}]},
      "mark": {"type": "text", "font": "Liberation Sans", "fontSize": 18.2, "align": "left", "baseline": "alphabetic", "color": "#ff0000"},
      "encoding": {
        "x": {"datum": 14.869, "type": "quantitative", "scale": {"domain": [5.927, 20.073], "nice": false, "zero": false}, "axis": null},
        "y": {"datum": 0.3578, "type": "quantitative", "scale": {"domain": [-0.0247, 0.3439], "nice": false, "zero": false}, "axis": null},
        "text": {"field": "text"}
      }
    },
    {
      "data": {"values": [{"text": "Fig. 3"}]},
      "mark": {"type": "text", "font": "Open Sans", "fontSize": 20, "fontWeight": "bold", "align": "left", "baseline": "alphabetic", "color": "#000000"},
      "encoding": {
        "x": {"datum": 4.562, "type": "quantitative", "scale": {"domain": [5.927, 20.073], "nice": false, "zero": false}, "axis": null},
        "y": {"datum": -0.088, "type": "quantitative", "scale": {"domain": [-0.0247, 0.3439], "nice": false, "zero": false}, "axis": null},
        "text": {"field": "text"}
      }
    },
    {
      "data": {"values": [{"text": "Nonperforming consumer loan ratio, best practice ratio, and lending inefficiency: 2016, not"}]},
      "mark": {"type": "text", "font": "Open Sans", "fontSize": 18, "align": "left", "baseline": "alphabetic", "color": "#1a1a1a"},
      "encoding": {
        "x": {"datum": 5.688, "type": "quantitative", "scale": {"domain": [5.927, 20.073], "nice": false, "zero": false}, "axis": null},
        "y": {"datum": -0.088, "type": "quantitative", "scale": {"domain": [-0.0247, 0.3439], "nice": false, "zero": false}, "axis": null},
        "text": {"field": "text"}
      }
    },
    {
      "data": {"values": [{"text": "controlling for the loan volume"}]},
      "mark": {"type": "text", "font": "Open Sans", "fontSize": 18, "align": "left", "baseline": "alphabetic", "color": "#1a1a1a"},
      "encoding": {
        "x": {"datum": 4.562, "type": "quantitative", "scale": {"domain": [5.927, 20.073], "nice": false, "zero": false}, "axis": null},
        "y": {"datum": -0.1044, "type": "quantitative", "scale": {"domain": [-0.0247, 0.3439], "nice": false, "zero": false}, "axis": null},
        "text": {"field": "text"}
      }
    },
    {
      "data": {"values": [{}]},
      "mark": {"type": "rule", "color": "#6e6e6e", "strokeWidth": 1.5},
      "encoding": {
        "x": {"datum": 4.22, "type": "quantitative", "scale": {"domain": [5.927, 20.073], "nice": false, "zero": false}, "axis": null},
        "x2": {"datum": 20.33},
        "y": {"datum": 0.4286, "type": "quantitative", "scale": {"domain": [-0.0247, 0.3439], "nice": false, "zero": false}, "axis": null}
      }
    },
    {
      "data": {"values": [{}]},
      "mark": {"type": "rule", "color": "#222222", "strokeWidth": 1.5},
      "encoding": {
        "x": {"datum": 4.169, "type": "quantitative", "scale": {"domain": [5.927, 20.073], "nice": false, "zero": false}, "axis": null},
        "y": {"datum": 0.424, "type": "quantitative", "scale": {"domain": [-0.0247, 0.3439], "nice": false, "zero": false}, "axis": null},
        "y2": {"datum": -0.1115}
      }
    }
  ]
}
